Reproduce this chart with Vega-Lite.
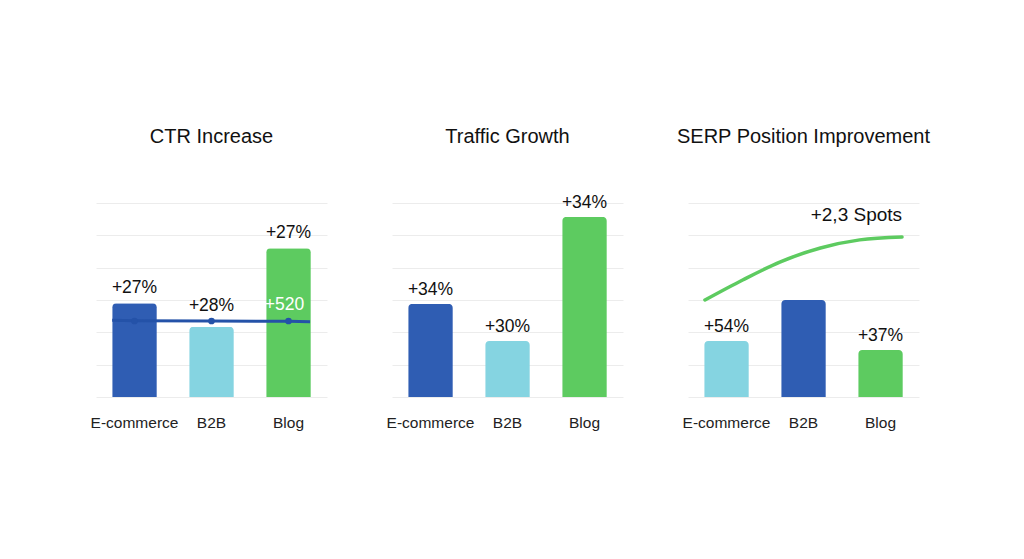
{
  "$schema": "https://vega.github.io/schema/vega-lite/v6.json",
  "autosize": {"type": "pad"},
  "padding": {"left": 90, "top": 126, "right": 20, "bottom": 20},
  "background": "white",
  "bounds": "flush",
  "spacing": 65,
  "config": {
    "view": {"stroke": null},
    "font": "Liberation Sans",
    "scale": {"bandPaddingInner": 0.42, "bandPaddingOuter": 0.21},
    "title": {"fontSize": 20, "fontWeight": "normal", "color": "#111111", "offset": 56, "anchor": "middle"},
    "axisX": {"title": null, "domain": false, "ticks": false, "tickSize": 0, "labelFontSize": 15.5, "labelColor": "#222222", "labelPadding": 18, "labelAngle": 0, "grid": false},
    "axisY": {"title": null, "labels": false, "ticks": false, "domain": false, "values": [0, 1, 2, 3, 4, 5, 6], "grid": true, "gridColor": "#ececec", "gridWidth": 1}
  },
  "resolve": {"scale": {"color": "independent", "x": "independent", "y": "independent"}},
  "datasets": {
    "ctr": [
      {"segment": "E-commerce", "value": 2.9, "label": "+27%", "avg": 2.35, "note": ""},
      {"segment": "B2B", "value": 2.17, "label": "+28%", "avg": 2.35, "note": ""},
      {"segment": "Blog", "value": 4.6, "label": "+27%", "avg": 2.35, "note": "+520"}
    ],
    "ctrTrend": [
      {"pos": 0.21, "v": 2.37},
      {"pos": 0.5, "v": 2.36},
      {"pos": 1.5, "v": 2.35},
      {"pos": 2.5, "v": 2.34},
      {"pos": 2.78, "v": 2.33}
    ],
    "traffic": [
      {"segment": "E-commerce", "value": 2.88, "label": "+34%"},
      {"segment": "B2B", "value": 1.73, "label": "+30%"},
      {"segment": "Blog", "value": 5.57, "label": "+34%"}
    ],
    "serp": [
      {"segment": "E-commerce", "value": 1.73, "label": "+54%"},
      {"segment": "B2B", "value": 3.0, "label": ""},
      {"segment": "Blog", "value": 1.45, "label": "+37%"}
    ],
    "serpTrend": [
      {"pos": 0.22, "v": 3.0, "tag": ""},
      {"pos": 0.71, "v": 3.62, "tag": ""},
      {"pos": 1.2, "v": 4.18, "tag": ""},
      {"pos": 1.72, "v": 4.61, "tag": ""},
      {"pos": 2.23, "v": 4.86, "tag": ""},
      {"pos": 2.78, "v": 4.95, "tag": "+2,3 Spots"}
    ]
  },
  "hconcat": [
    {
      "width": 231,
      "height": 194,
      "title": {"text": "CTR Increase"},
      "resolve": {"scale": {"x": "independent"}},
      "layer": [
        {
          "data": {"name": "ctr"},
          "mark": {"type": "bar", "cornerRadiusTopLeft": 4, "cornerRadiusTopRight": 4},
          "encoding": {
            "x": {"field": "segment", "type": "nominal", "sort": null},
            "y": {"field": "value", "type": "quantitative", "scale": {"domain": [0, 6], "nice": false}},
            "color": {"field": "segment", "type": "nominal", "scale": {"domain": ["E-commerce", "B2B", "Blog"], "range": ["#2f5db3", "#85d4e1", "#5dcb60"]}, "legend": null}
          }
        },
        {
          "data": {"name": "ctrTrend"},
          "mark": {"type": "line", "color": "#2452a8", "strokeWidth": 3},
          "encoding": {
            "x": {"field": "pos", "type": "quantitative", "scale": {"domain": [0, 3], "nice": false, "zero": false}, "axis": null},
            "y": {"field": "v", "type": "quantitative", "scale": {"domain": [0, 6], "nice": false}}
          }
        },
        {
          "data": {"name": "ctr"},
          "mark": {"type": "point", "filled": true, "color": "#2452a8", "size": 45, "opacity": 1},
          "encoding": {
            "x": {"field": "segment", "type": "nominal", "sort": null, "axis": null},
            "y": {"field": "avg", "type": "quantitative", "scale": {"domain": [0, 6], "nice": false}}
          }
        },
        {
          "data": {"name": "ctr"},
          "transform": [{"calculate": "max(datum.value, datum.avg)", "as": "labelAt"}],
          "mark": {"type": "text", "baseline": "alphabetic", "dy": -10, "fontSize": 17.5, "color": "#111111"},
          "encoding": {
            "x": {"field": "segment", "type": "nominal", "sort": null, "axis": null},
            "y": {"field": "labelAt", "type": "quantitative", "scale": {"domain": [0, 6], "nice": false}},
            "text": {"field": "label"}
          }
        },
        {
          "data": {"name": "ctr"},
          "mark": {"type": "text", "baseline": "alphabetic", "dy": -11, "dx": -4, "fontSize": 17.5, "color": "#ffffff"},
          "encoding": {
            "x": {"field": "segment", "type": "nominal", "sort": null, "axis": null},
            "y": {"field": "avg", "type": "quantitative", "scale": {"domain": [0, 6], "nice": false}},
            "text": {"field": "note"}
          }
        }
      ]
    },
    {
      "width": 231,
      "height": 194,
      "title": {"text": "Traffic Growth", "offset": 47},
      "data": {"name": "traffic"},
      "layer": [
        {
          "mark": {"type": "bar", "cornerRadiusTopLeft": 4, "cornerRadiusTopRight": 4},
          "encoding": {
            "x": {"field": "segment", "type": "nominal", "sort": null},
            "y": {"field": "value", "type": "quantitative", "scale": {"domain": [0, 6], "nice": false}},
            "color": {"field": "segment", "type": "nominal", "scale": {"domain": ["E-commerce", "B2B", "Blog"], "range": ["#2f5db3", "#85d4e1", "#5dcb60"]}, "legend": null}
          }
        },
        {
          "mark": {"type": "text", "baseline": "alphabetic", "dy": -9, "fontSize": 17.5, "color": "#111111"},
          "encoding": {
            "x": {"field": "segment", "type": "nominal", "sort": null},
            "y": {"field": "value", "type": "quantitative", "scale": {"domain": [0, 6], "nice": false}},
            "text": {"field": "label"}
          }
        }
      ]
    },
    {
      "width": 231,
      "height": 194,
      "title": {"text": "SERP Position Improvement"},
      "resolve": {"scale": {"x": "independent"}},
      "layer": [
        {
          "data": {"name": "serp"},
          "mark": {"type": "bar", "cornerRadiusTopLeft": 4, "cornerRadiusTopRight": 4},
          "encoding": {
            "x": {"field": "segment", "type": "nominal", "sort": null},
            "y": {"field": "value", "type": "quantitative", "scale": {"domain": [0, 6], "nice": false}},
            "color": {"field": "segment", "type": "nominal", "scale": {"domain": ["E-commerce", "B2B", "Blog"], "range": ["#85d4e1", "#2f5db3", "#5dcb60"]}, "legend": null}
          }
        },
        {
          "data": {"name": "serp"},
          "mark": {"type": "text", "baseline": "alphabetic", "dy": -9, "fontSize": 17.5, "color": "#111111"},
          "encoding": {
            "x": {"field": "segment", "type": "nominal", "sort": null, "axis": null},
            "y": {"field": "value", "type": "quantitative", "scale": {"domain": [0, 6], "nice": false}},
            "text": {"field": "label"}
          }
        },
        {
          "data": {"name": "serpTrend"},
          "mark": {"type": "line", "color": "#5dcb60", "strokeWidth": 3.5, "interpolate": "monotone", "strokeCap": "round"},
          "encoding": {
            "x": {"field": "pos", "type": "quantitative", "scale": {"domain": [0, 3], "nice": false, "zero": false}, "axis": null},
            "y": {"field": "v", "type": "quantitative", "scale": {"domain": [0, 6], "nice": false}}
          }
        },
        {
          "data": {"name": "serpTrend"},
          "mark": {"type": "text", "baseline": "alphabetic", "align": "right", "dy": -16, "fontSize": 19, "color": "#111111"},
          "encoding": {
            "x": {"field": "pos", "type": "quantitative", "scale": {"domain": [0, 3], "nice": false, "zero": false}, "axis": null},
            "y": {"field": "v", "type": "quantitative", "scale": {"domain": [0, 6], "nice": false}},
            "text": {"field": "tag"}
          }
        }
      ]
    }
  ]
}
